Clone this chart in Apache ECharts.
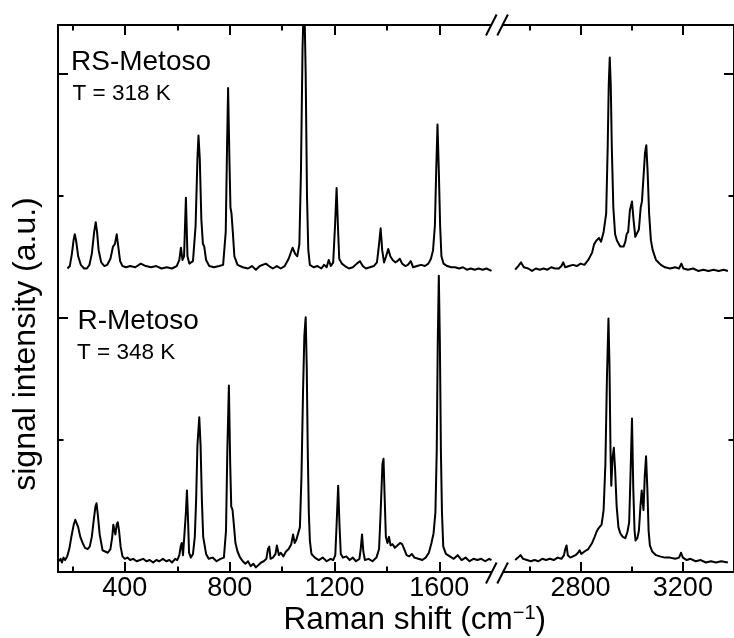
<!DOCTYPE html>
<html>
<head>
<meta charset="utf-8">
<script src="https://cdn.jsdelivr.net/npm/echarts@6/dist/echarts.min.js"></script>
<style>
  html, body { margin: 0; padding: 0; background: #fff; }
  #chart { width: 734px; height: 638px; }
</style>
</head>
<body>
<div id="chart"></div>
<script>
// Tick positions (Raman shift, cm-1) for the two segments of the broken axis
const lowMajorTicks = [400, 800, 1200, 1600];
const lowMinorTicks = [200, 600, 1000, 1400];
const highMajorTicks = [2800, 3200];
const highMinorTicks = [2600, 3000, 3400];
// Intensity ticks (arbitrary units, unlabelled)
const intensityMajorTicks = [2, 4];
const intensityMinorTicks = [1, 3];

// Visible ranges
const lowRange = [145, 1820];
const highRange = [2473, 3400];
const intensityRange = [-0.088, 4.396];

// RS-Metoso, T = 318 K (offset spectrum) : [Raman shift, intensity]
const rsLow = [
  [181, 2.40], [190, 2.42], [198, 2.52], [205, 2.64], [209, 2.68], [214, 2.63], [222, 2.50], [232, 2.43],
  [245, 2.40], [255, 2.40], [265, 2.43], [274, 2.52], [283, 2.70], [289, 2.78], [294, 2.70], [300, 2.55],
  [310, 2.45], [322, 2.42], [333, 2.43], [345, 2.48], [355, 2.58], [362, 2.60], [369, 2.68], [375, 2.58],
  [382, 2.46], [391, 2.42], [405, 2.41], [420, 2.42], [440, 2.41], [461, 2.44], [480, 2.42], [500, 2.41],
  [520, 2.42], [540, 2.40], [560, 2.41], [580, 2.40], [598, 2.42], [608, 2.47], [614, 2.57], [620, 2.47],
  [626, 2.50], [633, 2.98], [639, 2.50], [646, 2.44], [660, 2.46], [670, 2.75], [677, 3.30], [681, 3.49],
  [686, 3.30], [692, 2.80], [698, 2.60], [703, 2.58], [710, 2.47], [722, 2.42], [740, 2.41], [760, 2.42],
  [775, 2.43], [785, 2.70], [790, 3.40], [794, 3.88], [799, 3.30], [803, 2.90], [807, 2.85], [812, 2.70],
  [818, 2.50], [830, 2.43], [850, 2.41], [870, 2.40], [885, 2.42], [900, 2.39], [915, 2.42], [938, 2.44],
  [950, 2.42], [965, 2.40], [980, 2.42], [995, 2.40], [1010, 2.42], [1025, 2.48], [1040, 2.57], [1050, 2.52],
  [1058, 2.50], [1066, 2.60], [1072, 3.20], [1078, 4.20], [1084, 4.70], [1090, 4.00], [1095, 3.00], [1100, 2.55],
  [1106, 2.43], [1120, 2.41], [1135, 2.42], [1150, 2.40], [1160, 2.43], [1170, 2.41], [1178, 2.47], [1186, 2.42],
  [1195, 2.45], [1202, 2.75], [1208, 3.06], [1213, 2.75], [1218, 2.48], [1228, 2.44], [1240, 2.42], [1255, 2.40],
  [1270, 2.41], [1285, 2.44], [1297, 2.46], [1308, 2.42], [1320, 2.40], [1335, 2.41], [1350, 2.42], [1362, 2.45],
  [1370, 2.60], [1376, 2.73], [1382, 2.55], [1389, 2.45], [1397, 2.50], [1405, 2.56], [1413, 2.50], [1422, 2.47],
  [1432, 2.45], [1440, 2.46], [1449, 2.48], [1458, 2.44], [1470, 2.42], [1480, 2.43], [1491, 2.46], [1500, 2.41],
  [1515, 2.42], [1530, 2.43], [1545, 2.42], [1558, 2.44], [1568, 2.48], [1576, 2.55], [1583, 2.75], [1588, 3.20],
  [1593, 3.58], [1598, 3.20], [1603, 2.75], [1608, 2.50], [1616, 2.44], [1630, 2.42], [1645, 2.41], [1660, 2.41],
  [1675, 2.40], [1690, 2.41], [1705, 2.39], [1720, 2.40], [1735, 2.39], [1750, 2.40], [1765, 2.39], [1780, 2.40],
  [1799, 2.38]
];
const rsHigh = [
  [2544, 2.39], [2556, 2.42], [2567, 2.45], [2578, 2.41], [2595, 2.40], [2610, 2.38], [2625, 2.40], [2640, 2.39],
  [2655, 2.40], [2670, 2.39], [2685, 2.41], [2700, 2.40], [2715, 2.40], [2725, 2.42], [2732, 2.45], [2740, 2.41],
  [2755, 2.42], [2770, 2.43], [2785, 2.42], [2800, 2.44], [2815, 2.43], [2830, 2.47], [2845, 2.53], [2853, 2.60],
  [2862, 2.63], [2872, 2.65], [2880, 2.62], [2890, 2.70], [2900, 2.85], [2906, 3.40], [2910, 3.90], [2914, 4.13],
  [2918, 3.90], [2922, 3.40], [2928, 2.90], [2935, 2.68], [2942, 2.63], [2955, 2.58], [2968, 2.58], [2975, 2.62],
  [2980, 2.68], [2986, 2.70], [2993, 2.88], [3001, 2.95], [3007, 2.80], [3014, 2.66], [3021, 2.65], [3028, 2.72],
  [3035, 2.90], [3040, 2.95], [3046, 3.15], [3052, 3.35], [3057, 3.41], [3062, 3.20], [3068, 2.85], [3075, 2.63],
  [3082, 2.55], [3095, 2.47], [3114, 2.43], [3130, 2.41], [3150, 2.40], [3170, 2.41], [3185, 2.40], [3194, 2.44],
  [3202, 2.40], [3220, 2.39], [3240, 2.40], [3260, 2.38], [3280, 2.39], [3300, 2.38], [3320, 2.39], [3340, 2.38],
  [3360, 2.39], [3376, 2.38]
];

// R-Metoso, T = 348 K : [Raman shift, intensity]
const rLow = [
  [149, 0.00], [155, 0.02], [160, -0.01], [166, 0.03], [172, 0.01], [180, 0.04], [188, 0.10], [196, 0.20],
  [205, 0.30], [211, 0.34], [216, 0.35], [222, 0.28], [230, 0.20], [239, 0.15], [248, 0.11], [258, 0.10],
  [266, 0.12], [274, 0.20], [282, 0.35], [288, 0.45], [292, 0.475], [297, 0.38], [304, 0.22], [315, 0.09],
  [325, 0.08], [335, 0.07], [345, 0.10], [352, 0.20], [356, 0.30], [359, 0.31], [364, 0.22], [369, 0.30],
  [373, 0.32], [378, 0.25], [384, 0.12], [391, 0.04], [400, 0.02], [410, 0.03], [420, 0.01], [432, 0.02],
  [445, 0.00], [458, 0.01], [470, 0.02], [482, 0.00], [495, 0.01], [508, -0.01], [520, 0.01], [532, 0.00],
  [545, 0.02], [558, 0.00], [570, 0.01], [580, -0.01], [592, 0.02], [600, 0.01], [608, 0.05], [613, 0.12],
  [617, 0.15], [622, 0.05], [628, 0.06], [633, 0.40], [637, 0.58], [641, 0.35], [645, 0.07], [652, 0.03],
  [660, 0.06], [667, 0.20], [672, 0.50], [677, 0.95], [684, 1.18], [689, 0.95], [694, 0.50], [699, 0.20],
  [703, 0.15], [710, 0.06], [720, 0.02], [735, 0.03], [750, 0.00], [765, 0.02], [778, 0.03], [786, 0.25],
  [791, 0.90], [797, 1.44], [802, 0.80], [806, 0.45], [811, 0.42], [816, 0.30], [822, 0.15], [830, 0.08],
  [840, 0.03], [850, 0.00], [860, -0.02], [870, 0.00], [880, -0.04], [890, -0.02], [900, -0.05], [910, -0.03],
  [920, -0.01], [930, 0.00], [940, 0.02], [946, 0.10], [951, 0.12], [956, 0.02], [965, 0.03], [975, 0.06],
  [980, 0.13], [983, 0.14], [988, 0.05], [995, 0.07], [1005, 0.04], [1015, 0.08], [1025, 0.10], [1035, 0.14],
  [1042, 0.22], [1048, 0.15], [1055, 0.18], [1062, 0.18], [1068, 0.28], [1074, 0.70], [1080, 1.40], [1085, 1.85],
  [1090, 2.00], [1094, 1.60], [1098, 0.90], [1102, 0.40], [1106, 0.17], [1112, 0.06], [1125, 0.03], [1140, 0.01],
  [1155, 0.03], [1170, 0.00], [1185, 0.02], [1195, 0.01], [1203, 0.05], [1208, 0.30], [1214, 0.62], [1219, 0.30],
  [1224, 0.06], [1232, 0.03], [1245, 0.04], [1258, 0.01], [1270, 0.03], [1282, 0.00], [1295, 0.02], [1300, 0.10],
  [1305, 0.22], [1310, 0.08], [1316, 0.01], [1330, 0.02], [1345, 0.00], [1360, 0.03], [1370, 0.10], [1376, 0.40],
  [1383, 0.80], [1387, 0.84], [1391, 0.55], [1396, 0.20], [1402, 0.15], [1408, 0.20], [1414, 0.13], [1422, 0.14],
  [1430, 0.11], [1440, 0.13], [1450, 0.15], [1458, 0.14], [1466, 0.10], [1475, 0.05], [1485, 0.04], [1495, 0.06],
  [1505, 0.03], [1520, 0.02], [1535, 0.01], [1548, 0.03], [1560, 0.07], [1570, 0.15], [1578, 0.23], [1585, 0.40],
  [1590, 0.90], [1594, 1.80], [1598, 2.34], [1602, 1.80], [1606, 0.90], [1610, 0.40], [1615, 0.12], [1625, 0.06],
  [1640, 0.04], [1655, 0.02], [1670, 0.05], [1685, 0.01], [1700, 0.03], [1715, 0.00], [1730, 0.02], [1745, 0.01],
  [1760, 0.02], [1775, 0.00], [1790, 0.02], [1799, 0.01]
];
const rHigh = [
  [2544, 0.01], [2555, 0.03], [2565, 0.05], [2575, 0.02], [2590, 0.01], [2605, 0.00], [2620, 0.01], [2635, 0.00],
  [2650, 0.02], [2665, 0.01], [2680, 0.02], [2695, 0.01], [2710, 0.03], [2725, 0.02], [2735, 0.05], [2740, 0.10],
  [2745, 0.13], [2750, 0.05], [2760, 0.03], [2770, 0.04], [2780, 0.05], [2790, 0.07], [2796, 0.09], [2803, 0.06],
  [2815, 0.08], [2830, 0.10], [2845, 0.15], [2855, 0.20], [2862, 0.24], [2870, 0.27], [2875, 0.27], [2882, 0.30],
  [2890, 0.42], [2897, 0.80], [2903, 1.50], [2909, 1.99], [2913, 1.60], [2917, 0.90], [2920, 0.62], [2925, 0.85],
  [2930, 0.93], [2935, 0.75], [2941, 0.45], [2948, 0.28], [2955, 0.23], [2965, 0.20], [2975, 0.19], [2983, 0.24],
  [2990, 0.32], [2995, 0.69], [3001, 1.17], [3006, 0.60], [3011, 0.25], [3015, 0.17], [3022, 0.19], [3028, 0.25],
  [3034, 0.45], [3039, 0.58], [3043, 0.48], [3046, 0.42], [3051, 0.70], [3056, 0.86], [3061, 0.60], [3066, 0.25],
  [3071, 0.13], [3080, 0.08], [3095, 0.05], [3110, 0.04], [3130, 0.03], [3150, 0.03], [3170, 0.02], [3185, 0.03],
  [3193, 0.07], [3200, 0.03], [3215, 0.01], [3230, 0.02], [3250, 0.00], [3270, 0.01], [3290, -0.01], [3310, 0.00],
  [3330, -0.01], [3350, 0.00], [3376, -0.01]
];

const FONT = '"Liberation Sans", Arial, Helvetica, sans-serif';
const INK = '#000';

function xAxisOf(gridIndex, position, range, ticks, tickLength, withLine, withLabels) {
  return {
    type: 'value', gridIndex, position, min: range[0], max: range[1],
    axisLine: { show: withLine, onZero: false, lineStyle: { color: INK, width: 2 } },
    axisTick: { show: true, inside: true, length: tickLength, customValues: ticks, lineStyle: { color: INK, width: 2 } },
    axisLabel: withLabels
      ? { show: true, customValues: ticks, color: INK, fontSize: 27, fontFamily: FONT, margin: 3,
          formatter: (v) => String(v) }
      : { show: false },
    splitLine: { show: false }, minorTick: { show: false }
  };
}

function yAxisOf(gridIndex, position, ticks, tickLength, withLine) {
  return {
    type: 'value', gridIndex, position, min: intensityRange[0], max: intensityRange[1],
    axisLine: { show: withLine, onZero: false, lineStyle: { color: INK, width: 2 } },
    axisTick: { show: true, inside: true, length: tickLength, customValues: ticks, lineStyle: { color: INK, width: 2 } },
    axisLabel: { show: false },
    splitLine: { show: false }, minorTick: { show: false }
  };
}

function spectrum(data, xAxisIndex, yAxisIndex) {
  return {
    type: 'line', data, xAxisIndex, yAxisIndex, showSymbol: false, symbol: 'none',
    clip: true, silent: true, animation: false,
    lineStyle: { color: INK, width: 2, join: 'round' }
  };
}

// Axis-break marks: two slanted strokes with the axis blanked between them
function breakMark(cy) {
  const h = 10.5, dx = 5.3;
  const a = 491.3, b = 502.6;
  return [
    { type: 'polygon', z: 100, shape: { points: [[a - dx, cy + h], [a + dx, cy - h], [b + dx, cy - h], [b - dx, cy + h]] },
      style: { fill: '#fff' } },
    { type: 'line', z: 101, shape: { x1: a - dx, y1: cy + h, x2: a + dx, y2: cy - h }, style: { stroke: INK, lineWidth: 2 } },
    { type: 'line', z: 101, shape: { x1: b - dx, y1: cy + h, x2: b + dx, y2: cy - h }, style: { stroke: INK, lineWidth: 2 } }
  ];
}

function label(text, x, y, size) {
  return { type: 'text', z: 102, x, y,
    style: { text, fill: INK, fontSize: size, fontFamily: FONT, align: 'left', verticalAlign: 'middle' } };
}

const chart = echarts.init(document.getElementById('chart'), null, { renderer: 'canvas' });
chart.setOption({
  animation: false,
  backgroundColor: '#fff',
  grid: [
    { left: 58, top: 25, width: 439, height: 547 },
    { left: 497, top: 25, width: 243, height: 547 }
  ],
  xAxis: [
    xAxisOf(0, 'bottom', lowRange, lowMajorTicks, 10, true, true),
    xAxisOf(0, 'bottom', lowRange, lowMinorTicks, 5.5, false, false),
    xAxisOf(0, 'top', lowRange, lowMajorTicks, 10, true, false),
    xAxisOf(0, 'top', lowRange, lowMinorTicks, 5.5, false, false),
    xAxisOf(1, 'bottom', highRange, highMajorTicks, 10, true, true),
    xAxisOf(1, 'bottom', highRange, highMinorTicks, 5.5, false, false),
    xAxisOf(1, 'top', highRange, highMajorTicks, 10, true, false),
    xAxisOf(1, 'top', highRange, highMinorTicks, 5.5, false, false)
  ],
  yAxis: [
    yAxisOf(0, 'left', intensityMajorTicks, 10, true),
    yAxisOf(0, 'left', intensityMinorTicks, 5.5, false),
    yAxisOf(1, 'right', intensityMajorTicks, 10, true),
    yAxisOf(1, 'right', intensityMinorTicks, 5.5, false)
  ],
  series: [
    spectrum(rsLow, 0, 0),
    spectrum(rLow, 0, 0),
    spectrum(rsHigh, 4, 2),
    spectrum(rHigh, 4, 2)
  ],
  graphic: [
    ...breakMark(25),
    ...breakMark(573),
    label('RS-Metoso', 71, 62.7, 28),
    label('T = 318 K', 72.5, 94, 22.5),
    label('R-Metoso', 77.5, 321, 28),
    label('T = 348 K', 77, 352.5, 22.5),
    { type: 'text', z: 102, x: 414.7, y: 620,
      style: {
        text: '{a|Raman shift (cm}{s|\u22121}{a|)}',
        align: 'center', verticalAlign: 'middle', fill: INK, fontFamily: FONT,
        rich: {
          a: { fontSize: 31.5, fontFamily: FONT, fill: INK, lineHeight: 34 },
          s: { fontSize: 20, fontFamily: FONT, fill: INK, verticalAlign: 'top', lineHeight: 34 }
        }
      } },
    { type: 'text', z: 102, x: 26, y: 344, rotation: Math.PI / 2,
      style: { text: 'signal intensity (a.u.)', fill: INK, fontSize: 32, fontFamily: FONT,
        align: 'center', verticalAlign: 'middle' } }
  ]
});
</script>
</body>
</html>
